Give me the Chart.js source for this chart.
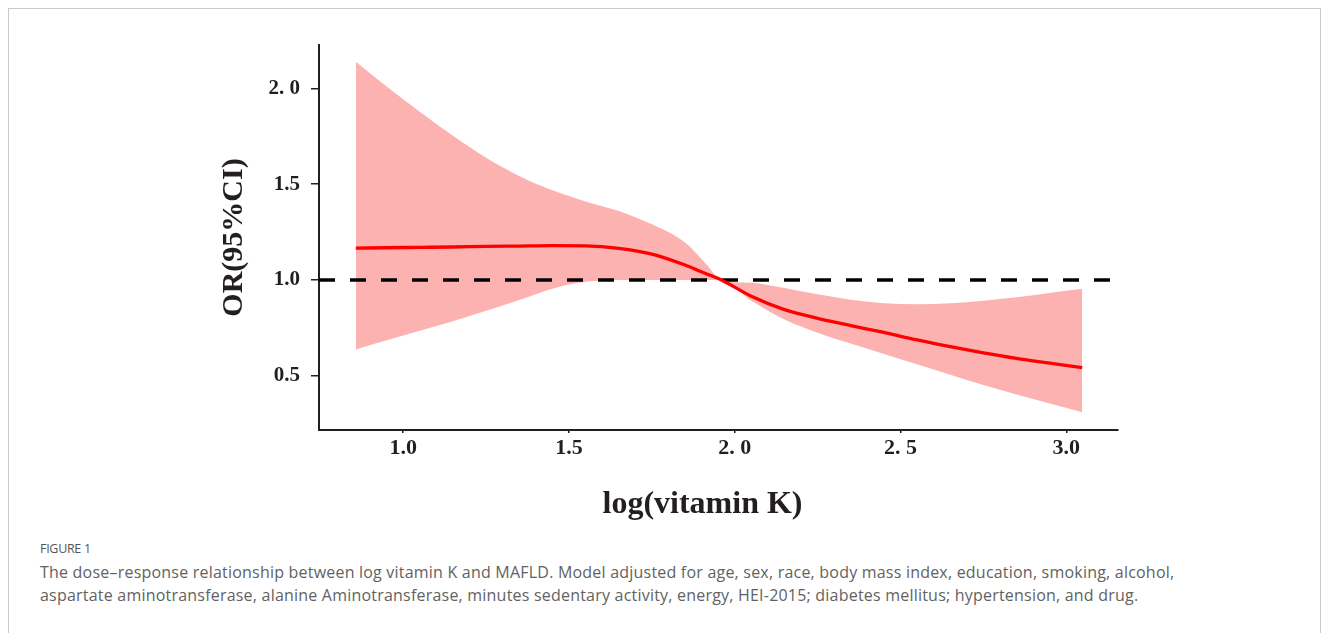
<!DOCTYPE html>
<html>
<head>
<meta charset="utf-8">
<script src="https://cdn.jsdelivr.net/npm/chart.js@4/dist/chart.umd.min.js"></script>
<style>
  html, body { margin: 0; padding: 0; background: #ffffff; }
  body { width: 1330px; height: 633px; position: relative; overflow: hidden; }
  #frame { position: absolute; left: 8px; top: 8px; width: 1313px; height: 700px; border: 1px solid #c9c9c9; box-sizing: border-box; }
  #wrap { position: absolute; left: 0; top: 0; width: 1330px; height: 540px; }
  #figlabel { position: absolute; left: 40px; top: 540px; font-family: "Open Sans", sans-serif; font-size: 12.5px; color: #555; letter-spacing: -0.3px; }
  .cap { position: absolute; left: 40px; font-family: "Open Sans", sans-serif; font-size: 16px; color: #626262; white-space: nowrap; line-height: 23px; }
  .cap span { display: inline-block; }
</style>
</head>
<body>
<div id="frame"></div>
<div id="wrap"><canvas id="c"></canvas></div>
<div id="figlabel">FIGURE 1</div>
<div class="cap" style="top:561px"><span id="cap1">The dose–response relationship between log vitamin K and MAFLD. Model adjusted for age, sex, race, body mass index, education, smoking, alcohol,</span></div>
<div class="cap" style="top:584px"><span id="cap2">aspartate aminotransferase, alanine Aminotransferase, minutes sedentary activity, energy, HEI-2015; diabetes mellitus; hypertension, and drug.</span></div>
<script>
// ---- data ----
const logVitK    = [0.857, 0.95, 1.05, 1.15, 1.25, 1.35, 1.45, 1.55, 1.65, 1.75, 1.85, 1.91, 1.96, 2.05, 2.15, 2.25, 2.35, 2.45, 2.55, 2.65, 2.75, 2.85, 2.95, 3.048];
const orEstimate = [1.166, 1.168, 1.170, 1.172, 1.175, 1.177, 1.179, 1.178, 1.165, 1.135, 1.078, 1.035, 1.000, 0.915, 0.845, 0.800, 0.762, 0.726, 0.687, 0.652, 0.620, 0.591, 0.566, 0.542];
const ciUpper    = [2.139, 2.010, 1.878, 1.752, 1.638, 1.543, 1.468, 1.410, 1.360, 1.290, 1.195, 1.090, 1.000, 0.985, 0.958, 0.925, 0.897, 0.879, 0.873, 0.878, 0.892, 0.910, 0.932, 0.954];
const ciLower    = [0.637, 0.685, 0.735, 0.785, 0.839, 0.895, 0.954, 0.990, 1.000, 1.000, 1.000, 1.000, 1.000, 0.892, 0.794, 0.725, 0.668, 0.614, 0.560, 0.505, 0.452, 0.402, 0.355, 0.310];
const refLineX   = [0.746, 3.142];
const refLineY   = [1.0, 1.0];
const xTickValues = [1.0, 1.5, 2.0, 2.5, 3.0];
const xTickLabels = ['1.0', '1.5', '2. 0', '2. 5', '3.0'];
const yTickValues = [0.5, 1.0, 1.5, 2.0];
const yTickLabels = ['0.5', '1.0', '1.5', '2. 0'];
const xTitle = 'log(vitamin K)\u00a0\u00a0\u00a0\u00a0';
const yTitle = 'OR(95%CI)';

const pts = (xs, ys) => xs.map((x, i) => ({ x: x, y: ys[i] }));
const axisColor = '#231f20';
const serif = '"Liberation Serif", "Times New Roman", serif';

new Chart(document.getElementById('c'), {
  type: 'line',
  data: {
    datasets: [
      { label: 'OR', data: pts(logVitK, orEstimate), borderColor: '#ff0000', borderWidth: 3.3,
        pointRadius: 0, fill: false, cubicInterpolationMode: 'monotone', order: 0 },
      { label: 'ref', data: pts(refLineX, refLineY), borderColor: '#000000', borderWidth: 3.5,
        borderDash: [16, 15], pointRadius: 0, fill: false, order: 1 },
      { label: 'upper', data: pts(logVitK, ciUpper), borderWidth: 0, borderColor: 'rgba(0,0,0,0)',
        backgroundColor: 'rgb(253,178,178)', pointRadius: 0, fill: '+1', cubicInterpolationMode: 'monotone', order: 2 },
      { label: 'lower', data: pts(logVitK, ciLower), borderWidth: 0, borderColor: 'rgba(0,0,0,0)',
        pointRadius: 0, fill: false, cubicInterpolationMode: 'monotone', order: 3 }
    ]
  },
  options: {
    responsive: true,
    maintainAspectRatio: false,
    animation: false,
    events: [],
    layout: { padding: { left: 200, right: 212, top: 45, bottom: 15 } },
    plugins: { legend: { display: false }, tooltip: { enabled: false } },
    scales: {
      x: {
        type: 'linear', min: 0.746, max: 3.156,
        afterBuildTicks: s => { s.ticks = xTickValues.map(v => ({ value: v })); },
        afterFit: s => { s.height = 95; s.paddingLeft = 0; s.paddingRight = 0; },
        ticks: { callback: (v, i) => xTickLabels[i], font: { family: serif, size: 22, weight: 'bold' }, color: axisColor, padding: 2, maxRotation: 0 },
        grid: { drawOnChartArea: false, drawTicks: true, tickLength: 3, color: axisColor, lineWidth: 1.5 },
        border: { display: true, color: axisColor, width: 2 },
        title: { display: true, text: xTitle, font: { family: serif, size: 32, weight: 'bold' }, color: axisColor, padding: { top: 0, bottom: 1 } }
      },
      y: {
        type: 'linear', min: 0.217, max: 2.226,
        afterBuildTicks: s => { s.ticks = yTickValues.map(v => ({ value: v })); },
        afterFit: s => { s.width = 119; s.paddingTop = 0; s.paddingBottom = 0; },
        ticks: { callback: (v, i) => yTickLabels[i], font: { family: serif, size: 21, weight: 'bold' }, color: axisColor, padding: 11 },
        grid: { drawOnChartArea: false, drawTicks: true, tickLength: 8, color: axisColor, lineWidth: 1.5 },
        border: { display: true, color: axisColor, width: 2 },
        title: { display: true, text: yTitle, font: { family: serif, size: 30, weight: 'bold' }, color: axisColor, padding: { top: 16, bottom: 0 } }
      }
    }
  }
});

// one shared letter spacing for both caption lines, chosen to best match both line widths
(function () {
  const a = document.getElementById('cap1'), b = document.getElementById('cap2');
  const wa = a.getBoundingClientRect().width, wb = b.getBoundingClientRect().width;
  const na = a.textContent.length, nb = b.textContent.length;
  const ls = ((1251 - wa) * na + (980 - wb) * nb) / (na * na + nb * nb);
  a.style.letterSpacing = ls + 'px';
  b.style.letterSpacing = ls + 'px';
})();
</script>
</body>
</html>
